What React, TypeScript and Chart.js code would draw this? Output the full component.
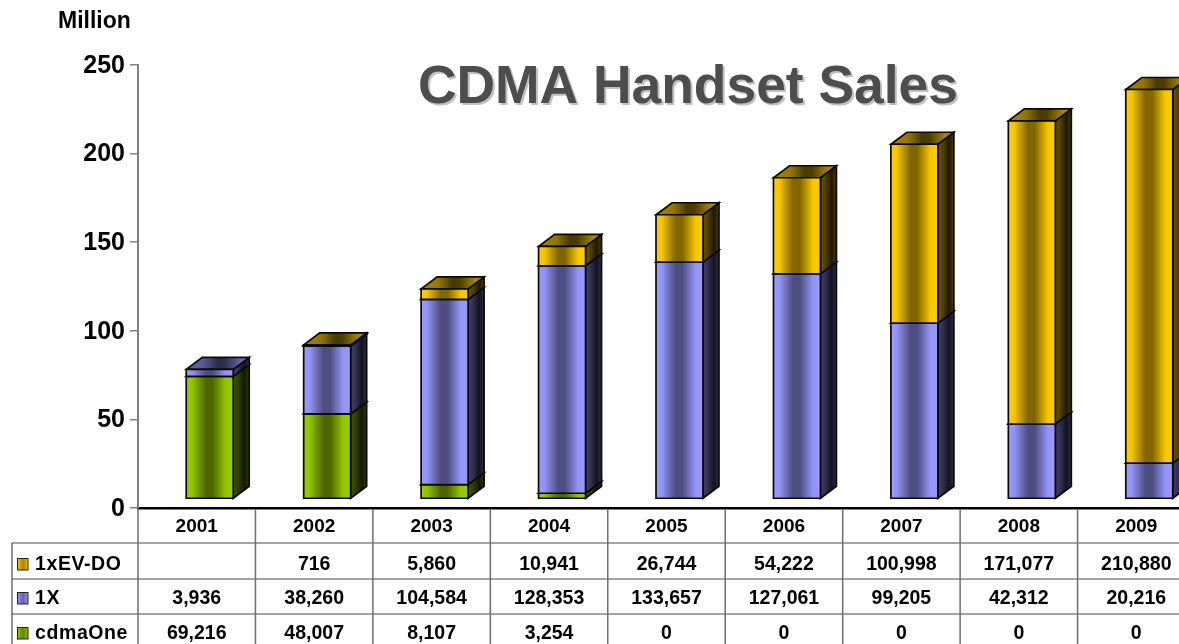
import React, { useEffect, useRef } from "react";
import { Chart, registerables } from "chart.js";

Chart.register(...registerables);

const FONT = '"Liberation Sans", Arial, sans-serif';
const years = ["2001", "2002", "2003", "2004", "2005", "2006", "2007", "2008", "2009"];
const cdmaOne = [69216, 48007, 8107, 3254, 0, 0, 0, 0, 0];
const oneX = [3936, 38260, 104584, 128353, 133657, 127061, 99205, 42312, 20216];
const evdo: (number | null)[] = [null, 716, 5860, 10941, 26744, 54222, 100998, 171077, 210880];
const yTicks = [0, 50, 100, 150, 200, 250];

const green = [153, 204, 0];
const purple = [153, 153, 255];
const gold = [255, 204, 0];

const rows = [
  { label: "1xEV-DO", values: evdo, rgb: gold },
  { label: "1X", values: oneX, rgb: purple },
  { label: "cdmaOne", values: cdmaOne, rgb: green },
];

const OFFSET_X = 13;
const OFFSET_Y = -9;
const DEPTH_X = 16;
const DEPTH_Y = -12;

const shade = (rgb: number[], f: number) =>
  `rgb(${Math.round(rgb[0] * f)},${Math.round(rgb[1] * f)},${Math.round(rgb[2] * f)})`;

function metalGradient(ctx: CanvasRenderingContext2D, x0: number, x1: number, stops: [number, number][], rgb: number[]) {
  const g = ctx.createLinearGradient(x0, 0, x1, 0);
  stops.forEach(([p, f]) => g.addColorStop(p, shade(rgb, f)));
  return g;
}

const FRONT: [number, number][] = [[0, 1], [0.12, 0.97], [0.42, 0.5], [0.56, 0.5], [0.84, 0.97], [1, 1]];
const SIDE: [number, number][] = [[0, 0.42], [0.3, 0.32], [0.7, 0.12], [1, 0.3]];
const TOP: [number, number][] = [[0, 0.62], [0.2, 0.58], [0.5, 0.28], [0.65, 0.3], [1, 0.66]];
const KEY: [number, number][] = [[0, 0.95], [0.5, 0.65], [1, 0.95]];

const bars3d = {
  id: "bars3d",
  beforeDatasetDraw() {
    return false;
  },
  beforeDatasetsDraw(chart: any) {
    const ctx: CanvasRenderingContext2D = chart.ctx;
    ctx.save();
    ctx.lineWidth = 1.7;
    ctx.strokeStyle = "#0a0a0a";
    ctx.lineJoin = "miter";
    years.forEach((_, i) => {
      chart.data.datasets.forEach((ds: any, d: number) => {
        if (!ds.data[i]) return;
        const el = chart.getDatasetMeta(d).data[i];
        const { x, y, base, width } = el.getProps(["x", "y", "base", "width"], true);
        const l = x - width / 2 + OFFSET_X;
        const r = x + width / 2 + OFFSET_X;
        const t = y + OFFSET_Y;
        const b = base + OFFSET_Y;
        const rgb = ds.rgb;
        // side face
        ctx.beginPath();
        ctx.moveTo(r, t);
        ctx.lineTo(r + DEPTH_X, t + DEPTH_Y);
        ctx.lineTo(r + DEPTH_X, b + DEPTH_Y);
        ctx.lineTo(r, b);
        ctx.closePath();
        ctx.fillStyle = metalGradient(ctx, r, r + DEPTH_X, SIDE, rgb);
        ctx.fill();
        ctx.stroke();
        // top face
        ctx.beginPath();
        ctx.moveTo(l, t);
        ctx.lineTo(l + DEPTH_X, t + DEPTH_Y);
        ctx.lineTo(r + DEPTH_X, t + DEPTH_Y);
        ctx.lineTo(r, t);
        ctx.closePath();
        ctx.fillStyle = metalGradient(ctx, l + DEPTH_X / 2, r + DEPTH_X / 2, TOP, rgb);
        ctx.fill();
        ctx.stroke();
        // front face
        ctx.beginPath();
        ctx.rect(l, t, r - l, b - t);
        ctx.fillStyle = metalGradient(ctx, l, r, FRONT, rgb);
        ctx.fill();
        ctx.stroke();
      });
    });
    ctx.restore();
  },
};

const tableAndTitle = {
  id: "tableAndTitle",
  afterDraw(chart: any) {
    const ctx: CanvasRenderingContext2D = chart.ctx;
    const xs = chart.scales.x;
    const step = xs.width / years.length;
    const left = xs.left;
    const rowLines = [543, 579, 614];
    const baselines = [570, 604, 639];
    const bottom = 644;
    ctx.save();

    // rules
    ctx.strokeStyle = "#4a4a4a";
    ctx.lineWidth = 1.2;
    rowLines.forEach((yy) => {
      ctx.beginPath();
      ctx.moveTo(12, yy);
      ctx.lineTo(chart.width, yy);
      ctx.stroke();
    });
    ctx.beginPath();
    ctx.moveTo(12, 543);
    ctx.lineTo(12, bottom);
    ctx.stroke();
    ctx.strokeStyle = "#6e6e6e";
    ctx.lineWidth = 1.5;
    for (let i = 0; i <= years.length; i++) {
      ctx.beginPath();
      ctx.moveTo(left + i * step, 509);
      ctx.lineTo(left + i * step, bottom);
      ctx.stroke();
    }

    // values and legend keys
    ctx.fillStyle = "#000";
    ctx.font = `bold 19.5px ${FONT}`;
    ctx.textBaseline = "alphabetic";
    rows.forEach((row, r) => {
      const yy = baselines[r];
      ctx.textAlign = "center";
      row.values.forEach((v, i) => {
        if (v == null) return;
        ctx.fillText(v.toLocaleString("en-US"), xs.getPixelForTick(i), yy);
      });
      ctx.textAlign = "left";
      (ctx as any).letterSpacing = "0.6px";
      ctx.fillText(row.label, 35, yy);
      (ctx as any).letterSpacing = "0px";
      ctx.fillStyle = metalGradient(ctx, 18, 28, KEY, row.rgb);
      ctx.fillRect(18, yy - 11, 10, 11);
      ctx.strokeStyle = "#222";
      ctx.lineWidth = 1;
      ctx.strokeRect(17.5, yy - 11.5, 10.5, 11.5);
      ctx.fillStyle = "#000";
    });

    // unit
    ctx.textAlign = "left";
    ctx.font = `bold 23px ${FONT}`;
    ctx.fillText("Million", 58, 28);

    // title
    ctx.font = `bold 53.4px ${FONT}`;
    ctx.fillStyle = "#c0c0c0";
    ctx.fillText("CDMA Handset Sales", 420, 105);
    ctx.fillStyle = "#4d4d4d";
    ctx.fillText("CDMA Handset Sales", 418, 103);
    ctx.restore();
  },
};

export default function App() {
  const ref = useRef<HTMLCanvasElement>(null);
  useEffect(() => {
    const chart = new Chart(ref.current!, {
      type: "bar",
      data: {
        labels: years,
        datasets: rows
          .slice()
          .reverse()
          .map((row) => ({
            label: row.label,
            data: row.values.map((v) => (v == null ? null : v / 1000)),
            backgroundColor: shade(row.rgb, 1),
            rgb: row.rgb,
            barPercentage: 0.4,
            categoryPercentage: 1,
          })) as any,
      },
      options: {
        responsive: false,
        animation: false,
        layout: { padding: { left: 0, right: 0, top: 65, bottom: 0 } },
        plugins: { legend: { display: false }, title: { display: false }, tooltip: { enabled: false } },
        scales: {
          x: {
            stacked: true,
            grid: { display: false },
            border: { color: "#000", width: 2.5 },
            ticks: {
              color: "#000",
              font: { family: FONT, weight: "bold", size: 19 },
              padding: -1,
              maxRotation: 0,
            },
            afterFit: (s: any) => {
              s.height = 136;
            },
          },
          y: {
            stacked: true,
            min: 0,
            max: 250,
            afterBuildTicks: (s: any) => {
              s.ticks = yTicks.map((value) => ({ value }));
            },
            grid: { drawOnChartArea: false, color: "#808080", lineWidth: 1.5, tickLength: 8 },
            border: { color: "#808080", width: 2 },
            ticks: {
              color: "#000",
              font: { family: FONT, weight: "bold", size: 25 },
              padding: 5,
              labelOffset: 1,
            },
            afterFit: (s: any) => {
              s.width = 138;
            },
          },
        },
      },
      plugins: [bars3d, tableAndTitle],
    } as any);
    return () => chart.destroy();
  }, []);
  return (
    <div style={{ position: "fixed", left: 0, top: 0, width: 1179, height: 644, overflow: "hidden", background: "#fff" }}>
      <canvas ref={ref} width={1195} height={644} style={{ display: "block" }} />
    </div>
  );
}
